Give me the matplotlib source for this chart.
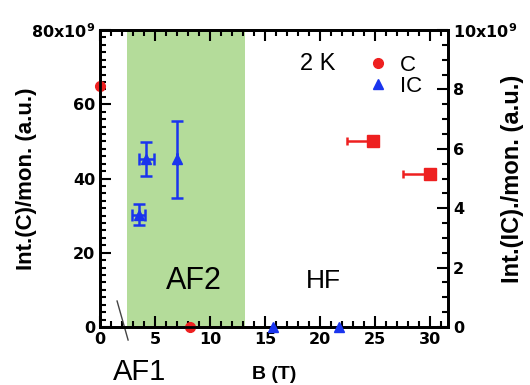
import matplotlib.pyplot as plt
from matplotlib.lines import Line2D
from matplotlib.ticker import MultipleLocator

plt.rcParams['font.family'] = ['Liberation Sans', 'DejaVu Sans']
plt.rcParams['mathtext.fontset'] = 'custom'
plt.rcParams['mathtext.bf'] = 'DejaVu Sans:bold'

# C intensity (left axis, units of 1e9)
c_circ_B = [0, 8.2]
c_circ_I = [65, 0]
c_sq_B = [24.8, 30.0]
c_sq_I = [50, 41.2]
c_sq_xerr_left = [2.4, 2.5]

# IC intensity (right axis, units of 1e9)
ic_B = [3.5, 4.2, 7.0]
ic_I = [3.78, 5.65, 5.65]
ic_yerr = [0.35, 0.57, 1.3]
ic_xerr = [0.6, 0.7, 0.0]
ic0_B = [15.7, 21.7]
ic0_I = [0, 0]

af2_range = (2.45, 13.2)

red = '#ee2020'
blue = '#1a35ee'
green = '#b4dc9a'

fig = plt.figure(figsize=(5.3, 3.85), dpi=100)
ax = fig.add_axes([0.1887, 0.1506, 0.6566, 0.7714])
ax2 = ax.twinx()

ax.axvspan(af2_range[0], af2_range[1], color=green, lw=0, zorder=0)

ax.plot(c_circ_B, c_circ_I, 'o', color=red, ms=7, clip_on=False, zorder=5)
ax.errorbar(c_sq_B, c_sq_I, xerr=[c_sq_xerr_left, [0] * len(c_sq_B)], fmt='s',
            color=red, ms=8.5, capsize=3, elinewidth=1.8, capthick=1.8, zorder=5)

ax2.errorbar(ic_B, ic_I, xerr=ic_xerr, yerr=ic_yerr, fmt='^', color=blue, ms=7,
             capsize=4, elinewidth=1.8, capthick=1.8, zorder=5)
ax2.plot(ic0_B, ic0_I, '^', color=blue, ms=7, clip_on=False, zorder=5)

ax.set_xlim(0, 31.6)
ax.set_ylim(0, 80)
ax2.set_ylim(0, 10)

ax.set_xticks([0, 5, 10, 15, 20, 25, 30])
ax.xaxis.set_minor_locator(MultipleLocator(1))
ax.set_yticks([0, 20, 40, 60, 80])
ax.set_yticklabels(['0', '20', '40', '60', '80x10$^{\\mathbf{9}}$'])
ax.yaxis.set_minor_locator(MultipleLocator(2))
ax2.set_yticks([0, 2, 4, 6, 8, 10])
ax2.set_yticklabels(['0', '2', '4', '6', '8', '10x10$^{\\mathbf{9}}$'])
ax2.yaxis.set_minor_locator(MultipleLocator(0.5))

ax.tick_params(which='both', direction='in', top=True, width=1.5, labelsize=11.5)
ax.tick_params(which='major', length=8)
ax.tick_params(which='minor', length=4)
ax2.tick_params(which='both', direction='in', width=1.5, labelsize=11.5)
ax2.tick_params(which='major', length=8)
ax2.tick_params(which='minor', length=4)
for a in (ax, ax2):
    for lab in a.get_xticklabels() + a.get_yticklabels():
        lab.set_fontweight('bold')
        lab.set_family('DejaVu Sans')
    for s in a.spines.values():
        s.set_linewidth(2)

ax.set_ylabel('Int.(C)/mon. (a.u.)', fontsize=16, fontweight='bold')
ax.yaxis.set_label_coords(-0.18, 0.5)
ax2.set_ylabel('Int.(IC)./mon. (a.u.)', fontsize=17, fontweight='bold')
ax2.yaxis.set_label_coords(1.152, 0.5)
ax.set_xlabel('B (T)', fontsize=14, fontweight='bold', labelpad=14)

ax.text(8.5, 12.5, 'AF2', fontsize=22, ha='center', va='center')
ax.text(20.3, 12.5, 'HF', fontsize=19, ha='center', va='center')
ax.text(3.6, -12.0, 'AF1', fontsize=21, ha='center', va='center', clip_on=False)
ax.add_line(Line2D([1.55, 2.55], [7.0, -3.5], color='#444444', lw=1, clip_on=False))
ax.text(0.625, 0.885, '2 K', transform=ax.transAxes, fontsize=17, ha='center', va='center')

handles = [Line2D([], [], marker='o', color=red, ls='', ms=7),
           Line2D([], [], marker='^', color=blue, ls='', ms=7)]
ax.legend(handles, ['C', 'IC'], loc='upper left', bbox_to_anchor=(0.735, 0.945),
          frameon=False, fontsize=16, handletextpad=0.4, labelspacing=0.0,
          borderaxespad=0, handlelength=1.2)

fig.savefig('out.png', dpi=100)
